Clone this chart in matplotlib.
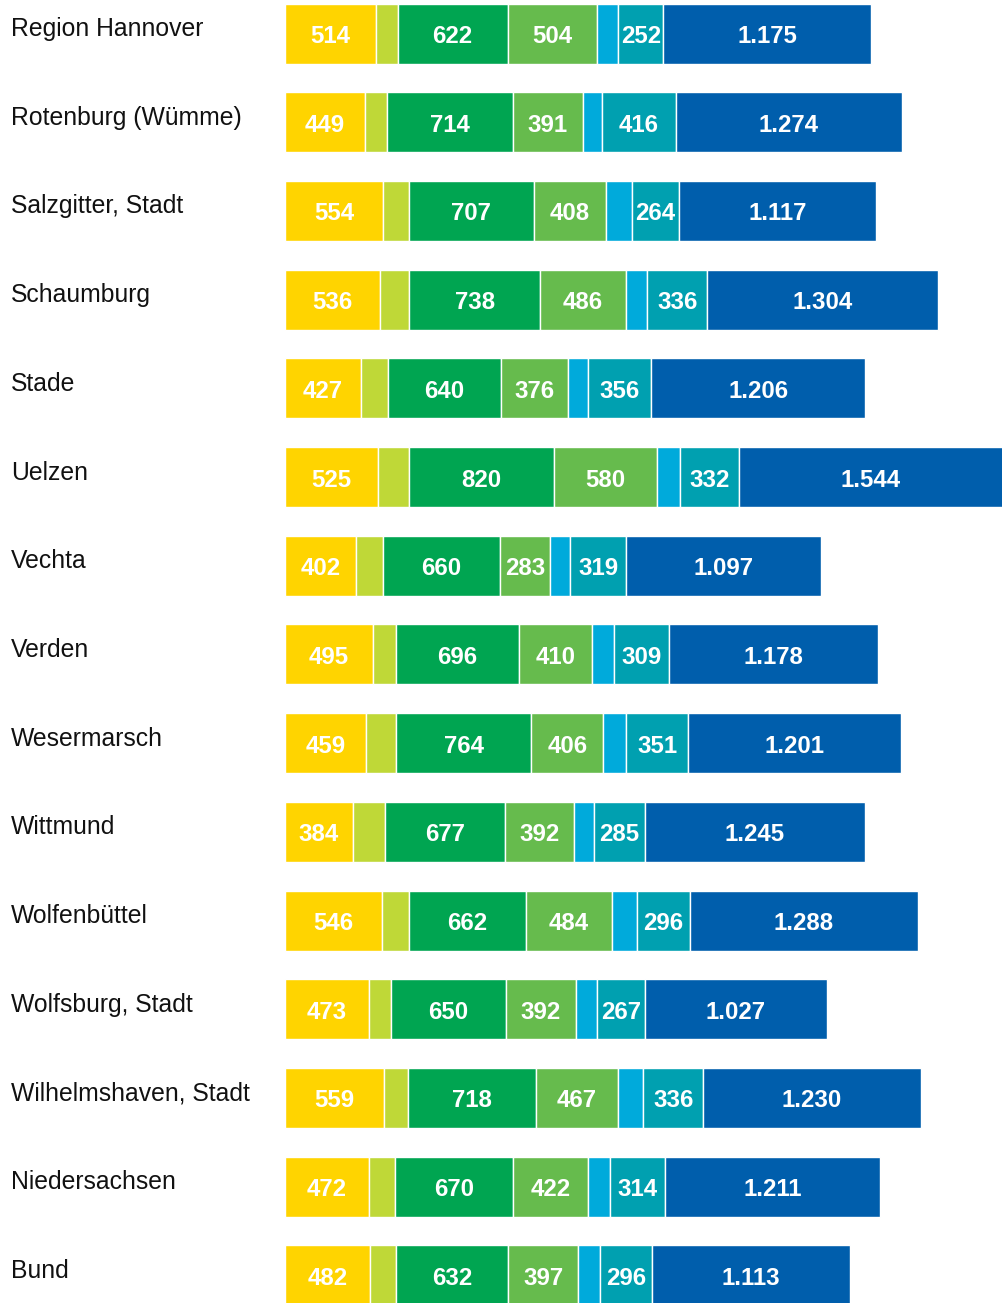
import matplotlib
matplotlib.use("Agg")
import matplotlib.pyplot as plt
import numpy as np

regions = ["Region Hannover", "Rotenburg (Wümme)", "Salzgitter, Stadt", "Schaumburg",
           "Stade", "Uelzen", "Vechta", "Verden", "Wesermarsch", "Wittmund",
           "Wolfenbüttel", "Wolfsburg, Stadt", "Wilhelmshaven, Stadt",
           "Niedersachsen", "Bund"]
s1 = [514, 449, 554, 536, 427, 525, 402, 495, 459, 384, 546, 473, 559, 472, 482]
s2 = [121, 125, 144, 165, 152, 174, 150, 129, 167, 180, 152, 125, 137, 146, 144]
s3 = [622, 714, 707, 738, 640, 820, 660, 696, 764, 677, 662, 650, 718, 670, 632]
s4 = [504, 391, 408, 486, 376, 580, 283, 410, 406, 392, 484, 392, 467, 422, 397]
s5 = [121, 111, 144, 120, 116, 130, 112, 129, 129, 111, 144, 122, 142, 122, 122]
s6 = [252, 416, 264, 336, 356, 332, 319, 309, 351, 285, 296, 267, 336, 314, 296]
s7 = [1175, 1274, 1117, 1304, 1206, 1544, 1097, 1178, 1201, 1245, 1288, 1027, 1230, 1211, 1113]

series = [s1, s2, s3, s4, s5, s6, s7]
show_label = [True, False, True, True, False, True, True]
colors = ["#FFD400", "#BFD837", "#00A551", "#66BB4D", "#00AADB", "#00A0B0", "#005EAC"]

plt.rcParams['font.family'] = ['Liberation Sans', 'DejaVu Sans']

W, H = 1003, 1303
fig = plt.figure(figsize=(W / 100, H / 100), dpi=100)
ax_left = 285 / W
ax = fig.add_axes([ax_left, 0, 1 - ax_left, 1])

scale = 0.1772  # px per unit
xmax = (W - 285) / scale
row_px = 88.7
top_center = 33.5
ylo = -top_center / row_px
yhi = (len(regions) - 1) + (H - (top_center + (len(regions) - 1) * row_px)) / row_px
ax.set_xlim(0, xmax)
ax.set_ylim(yhi, ylo)
ax.axis("off")

y = np.arange(len(regions))
left = np.zeros(len(regions))
bh = 60 / row_px


def fmt(v):
    return f"{v:,}".replace(",", ".")


for vals, col, lab in zip(series, colors, show_label):
    vals = np.array(vals, dtype=float)
    ax.barh(y, vals, left=left, height=bh, color=col, edgecolor="white",
            linewidth=1.0)
    if lab:
        for i, (l, v) in enumerate(zip(left, vals)):
            r = min(l + v, xmax)
            ax.text((l + r) / 2, y[i] + 9.5 / row_px, fmt(int(v)), ha="center",
                    va="baseline", color="white", fontsize=17.3, fontweight="bold")
    left = left + vals

for i, name in enumerate(regions):
    fig.text(11 / W, 1 - (top_center + i * row_px + 2.5) / H, name, ha="left",
             va="baseline", fontsize=17.8, color="#111111")

fig.savefig("out.png", dpi=100)
